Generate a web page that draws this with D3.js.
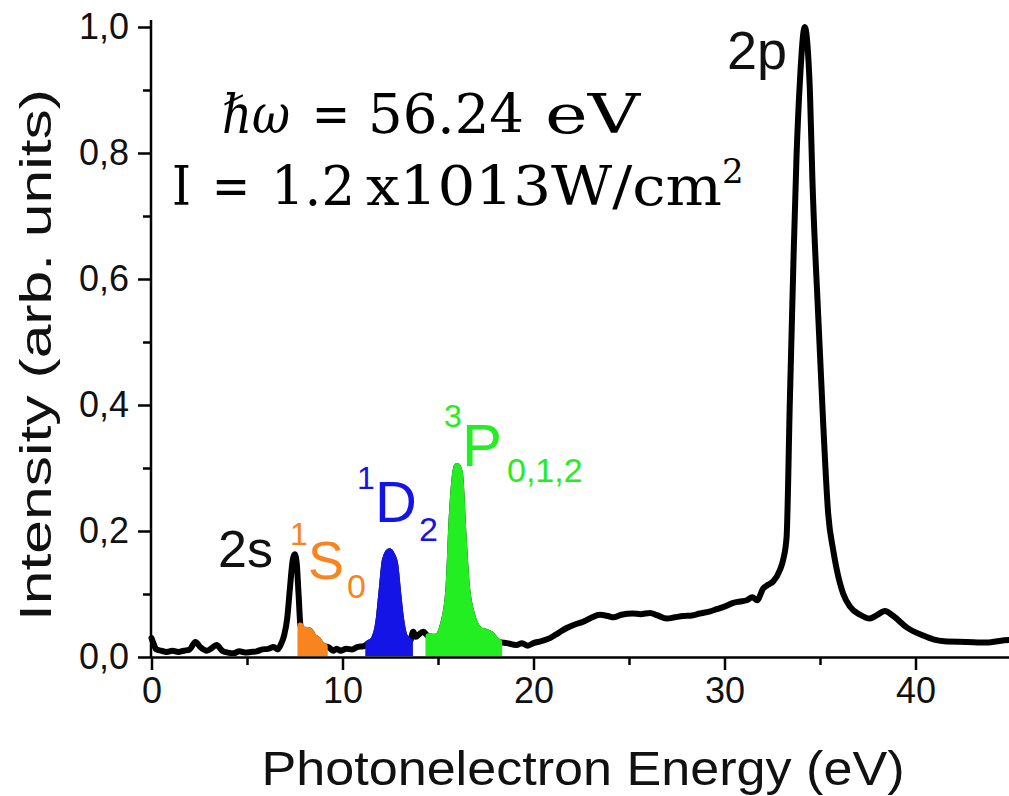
<!DOCTYPE html>
<html><head><meta charset="utf-8">
<script src="https://cdn.jsdelivr.net/npm/d3@7"></script>
<style>body{margin:0;background:#fff;} svg{display:block;}</style>
</head><body>
<svg id="chart" width="1009" height="796"></svg>
<script>
// ---- data ----
const energy = [0.0,0.1,0.25,0.5,0.8,1.1,1.4,1.7,2.0,2.3,2.55,2.9,3.15,3.4,3.7,4.0,4.3,4.6,4.9,5.2,5.5,5.8,6.1,6.4,6.6,6.8,6.95,7.1,7.25,7.4,7.5,7.6,7.7,7.8,7.9,8.1,8.3,8.45,8.7,8.9,9.07,9.3,9.5,9.7,9.9,10.2,10.5,10.8,11.1,11.35,11.6,11.87,12.05,12.22,12.45,12.6,12.75,12.92,13.05,13.27,13.53,13.7,13.85,13.97,14.23,14.5,14.93,15.28,15.54,15.72,15.9,16.0,16.15,16.33,16.5,16.76,17.0,17.2,17.5,17.8,18.07,18.2,18.6,19.1,19.4,19.7,20.0,20.4,20.86,21.3,21.74,22.2,22.6,23.0,23.48,23.9,24.18,24.6,25.2,25.6,26.1,26.5,26.97,27.4,27.84,28.3,28.7,29.2,29.6,30.0,30.46,30.8,31.16,31.45,31.7,32.03,32.3,32.55,32.9,33.07,33.25,33.42,33.6,33.77,33.95,34.2,34.47,34.6,34.9,35.17,35.43,35.69,35.87,36.22,36.57,37.1,37.6,37.96,38.4,38.84,39.54,40.4,40.93,41.5,42.68,43.7,44.9,45.0];
const intensity = [0.03,0.022,0.012,0.01,0.008,0.01,0.008,0.01,0.012,0.024,0.016,0.01,0.014,0.019,0.01,0.007,0.006,0.009,0.007,0.008,0.009,0.012,0.013,0.016,0.012,0.022,0.035,0.06,0.11,0.155,0.163,0.15,0.1,0.05,0.044,0.043,0.042,0.034,0.028,0.02,0.017,0.015,0.01,0.013,0.01,0.013,0.012,0.016,0.017,0.022,0.027,0.054,0.106,0.154,0.168,0.162,0.149,0.1,0.064,0.032,0.025,0.04,0.032,0.035,0.04,0.033,0.032,0.054,0.106,0.223,0.292,0.303,0.292,0.197,0.117,0.07,0.05,0.043,0.04,0.036,0.026,0.024,0.022,0.019,0.022,0.018,0.022,0.025,0.03,0.038,0.046,0.052,0.056,0.062,0.067,0.065,0.063,0.067,0.069,0.068,0.07,0.066,0.061,0.063,0.065,0.066,0.069,0.072,0.076,0.08,0.086,0.088,0.09,0.095,0.09,0.109,0.115,0.12,0.138,0.154,0.19,0.405,0.617,0.794,0.915,1.0,0.9,0.76,0.546,0.369,0.227,0.17,0.14,0.1,0.08,0.067,0.061,0.066,0.073,0.065,0.047,0.034,0.028,0.025,0.024,0.023,0.027,0.027];

const bandNames = ["1S0","1D2","3P012"];
const bandStart = [7.8, 11.35, 14.5];
const bandEnd = [9.07, 13.53, 18.2];

const xMajorTicks = [0,10,20,30,40];
const xMinorTicks = [5,15,25,35,45];
const yMajorTicks = [0,0.2,0.4,0.6,0.8,1.0];
const yMinorTicks = [0.1,0.3,0.5,0.7,0.9];
const yTickLabels = ["0,0","0,2","0,4","0,6","0,8","1,0"];

// ---- drawing ----
const bandColor = {"1S0":"#f7841e","1D2":"#1414e6","3P012":"#22ee22"};
const svg = d3.select("#chart");
const x = d3.scaleLinear().domain([0,45]).range([151.5, 151.5+45*19.1]);
const y = d3.scaleLinear().domain([0,1]).range([657, 27]);
const pts = energy.map((e,i)=>({e, v:intensity[i]}));

svg.append("defs").append("clipPath").attr("id","plotclip")
  .append("rect").attr("x",148).attr("y",0).attr("width",870).attr("height",656);

const plot = svg.append("g").attr("clip-path","url(#plotclip)");
const line = d3.line().x(d=>x(d.e)).y(d=>y(d.v)).curve(d3.curveMonotoneX);
plot.append("path").datum(pts).attr("d",line)
  .attr("fill","none").attr("stroke","#000").attr("stroke-width",6)
  .attr("stroke-linejoin","round").attr("stroke-linecap","round");

const area = d3.area().x(d=>x(d.e)).y0(y(0)).y1(d=>y(d.v)).curve(d3.curveMonotoneX);
bandNames.forEach((n,i)=>{
  const sub = pts.filter(p=>p.e>=bandStart[i]-1e-9 && p.e<=bandEnd[i]+1e-9);
  plot.append("path").datum(sub).attr("d",area)
    .attr("fill",bandColor[n]).attr("stroke",bandColor[n]).attr("stroke-width",6)
    .attr("stroke-linejoin","round");
});

// axes
const axCol = "#000";
const xAxisMajor = d3.axisBottom(x).tickValues(xMajorTicks).tickSize(13).tickSizeOuter(0).tickFormat(d3.format("d"));
const gx = svg.append("g").attr("transform","translate(0,657)").call(xAxisMajor);
gx.select(".domain").attr("stroke",axCol).attr("stroke-width",2.5);
gx.selectAll(".tick line").attr("stroke-width",2.5);
gx.selectAll(".tick text").attr("font-family","Liberation Sans, Arial, sans-serif").attr("font-size",36).attr("fill","#111").attr("dy","0.71em").attr("y",20);
const gxm = svg.append("g").attr("transform","translate(0,657)").call(d3.axisBottom(x).tickValues(xMinorTicks).tickSize(8).tickFormat(""));
gxm.select(".domain").remove();
gxm.selectAll(".tick line").attr("stroke-width",2.5);

const gy = svg.append("g").attr("transform","translate(151,0)")
  .call(d3.axisLeft(y).tickValues(yMajorTicks).tickSize(13).tickSizeOuter(0).tickFormat((d,i)=>yTickLabels[i]));
gy.select(".domain").attr("stroke-width",2.5).attr("d","M0,658V20");
gy.selectAll(".tick line").attr("stroke-width",2.5);
gy.selectAll(".tick text").attr("font-family","Liberation Sans, Arial, sans-serif").attr("font-size",36).attr("fill","#111").attr("x",-22);
const gym = svg.append("g").attr("transform","translate(151,0)").call(d3.axisLeft(y).tickValues(yMinorTicks).tickSize(8).tickFormat(""));
gym.select(".domain").remove();
gym.selectAll(".tick line").attr("stroke-width",2.5);

// axis titles
svg.append("text").attr("x",583).attr("y",785).attr("text-anchor","middle")
  .attr("font-family","Liberation Sans, Arial, sans-serif").attr("font-size",48).attr("fill","#111")
  .attr("textLength",643).attr("lengthAdjust","spacingAndGlyphs")
  .text("Photonelectron Energy (eV)");
svg.append("text").attr("transform","translate(51,355) rotate(-90)").attr("text-anchor","middle")
  .attr("font-family","Liberation Sans, Arial, sans-serif").attr("font-size",45).attr("fill","#111")
  .attr("textLength",532).attr("lengthAdjust","spacingAndGlyphs")
  .text("Intensity (arb. units)");

// annotation lines (serif)
const serif = "DejaVu Serif, Liberation Serif, serif";
function piece(txt, px, py, size, style, len){
  const t = svg.append("text").attr("x",px).attr("y",py).attr("font-family",serif)
    .attr("font-size",size).attr("fill","#000").text(txt);
  if(style) t.attr("font-style",style);
  if(len) t.attr("textLength",len).attr("lengthAdjust","spacingAndGlyphs");
  return t;
}
piece("\u210F\u03C9", 222, 133, 54, "italic", 68);
piece("=", 312, 133, 54, null, 38);
piece("56.24", 368, 133, 54, null, 156);
piece("eV", 545, 133, 54, null, 95);
piece("I", 172, 205, 54, null, 19);
piece("=", 212, 205, 54, null, 38);
piece("1.2", 271, 205, 54, null, 84);
piece("x1013W/cm", 366, 205, 54, null, 356);
piece("2", 722, 183, 34);

// peak labels
const sans = "Liberation Sans, Arial, sans-serif";
function lab(txt, px, py, size, col){
  svg.append("text").attr("x",px).attr("y",py).attr("font-family",sans)
    .attr("font-size",size).attr("fill",col).text(txt);
}
lab("2p", 727, 69, 54, "#111");
lab("2s", 218, 567, 52, "#111");
lab("1", 290, 545, 32, bandColor["1S0"]);
lab("S", 308, 579, 54, bandColor["1S0"]);
lab("0", 347, 598, 34, bandColor["1S0"]);
lab("1", 357, 489, 32, bandColor["1D2"]);
lab("D", 375, 522, 58, bandColor["1D2"]);
lab("2", 419, 541, 34, bandColor["1D2"]);
lab("3", 444, 427, 32, bandColor["3P012"]);
lab("P", 462, 466, 60, bandColor["3P012"]);
lab("0,1,2", 507, 482, 34, bandColor["3P012"]);
</script>
</body></html>
